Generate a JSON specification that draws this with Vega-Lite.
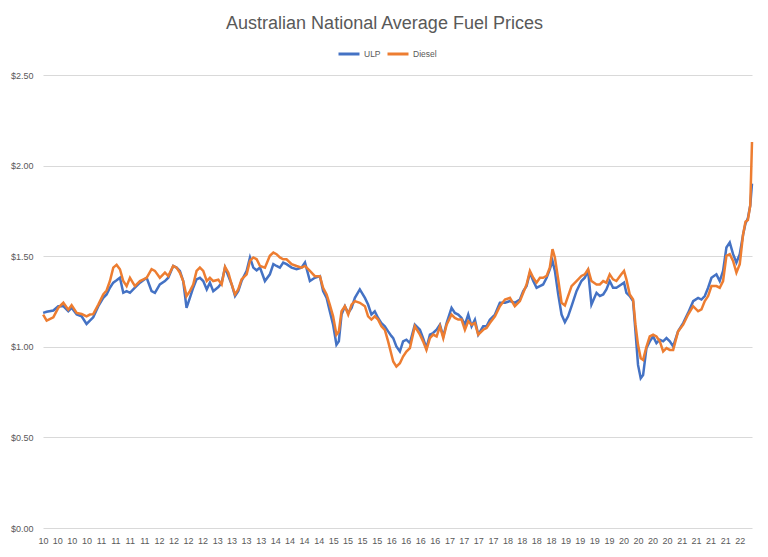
{
  "$schema": "https://vega.github.io/schema/vega-lite/v6.json",
  "autosize": "none",
  "width": 709,
  "height": 453,
  "padding": {"left": 43, "top": 75, "right": 16, "bottom": 29},
  "background": "white",
  "title": {
    "text": "Australian National Average Fuel Prices",
    "font": "Liberation Sans",
    "fontSize": 18,
    "fontWeight": "normal",
    "color": "#595959",
    "anchor": "middle",
    "dx": -13,
    "offset": 9
  },
  "config": {
    "view": {"stroke": null},
    "font": "Liberation Sans"
  },
  "data": {
    "values": [
      {"date": "2010-01-02", "ULP": 1.187, "Diesel": 1.178},
      {"date": "2010-01-24", "ULP": 1.193, "Diesel": 1.144},
      {"date": "2010-03-07", "ULP": 1.200, "Diesel": 1.163},
      {"date": "2010-04-07", "ULP": 1.224, "Diesel": 1.215},
      {"date": "2010-05-09", "ULP": 1.224, "Diesel": 1.243},
      {"date": "2010-06-09", "ULP": 1.196, "Diesel": 1.205},
      {"date": "2010-06-30", "ULP": 1.215, "Diesel": 1.230},
      {"date": "2010-08-01", "ULP": 1.178, "Diesel": 1.187},
      {"date": "2010-09-01", "ULP": 1.168, "Diesel": 1.181},
      {"date": "2010-10-02", "ULP": 1.126, "Diesel": 1.168},
      {"date": "2010-10-23", "ULP": 1.144, "Diesel": 1.178},
      {"date": "2010-11-13", "ULP": 1.163, "Diesel": 1.180},
      {"date": "2010-12-15", "ULP": 1.224, "Diesel": 1.233},
      {"date": "2011-01-15", "ULP": 1.270, "Diesel": 1.289},
      {"date": "2011-02-05", "ULP": 1.289, "Diesel": 1.311},
      {"date": "2011-02-26", "ULP": 1.326, "Diesel": 1.363},
      {"date": "2011-03-19", "ULP": 1.354, "Diesel": 1.437},
      {"date": "2011-04-09", "ULP": 1.367, "Diesel": 1.452},
      {"date": "2011-04-30", "ULP": 1.381, "Diesel": 1.428},
      {"date": "2011-05-21", "ULP": 1.298, "Diesel": 1.363},
      {"date": "2011-06-11", "ULP": 1.307, "Diesel": 1.335},
      {"date": "2011-07-02", "ULP": 1.298, "Diesel": 1.381},
      {"date": "2011-08-02", "ULP": 1.326, "Diesel": 1.335},
      {"date": "2011-09-03", "ULP": 1.354, "Diesel": 1.363},
      {"date": "2011-10-15", "ULP": 1.381, "Diesel": 1.381},
      {"date": "2011-11-15", "ULP": 1.307, "Diesel": 1.428},
      {"date": "2011-12-06", "ULP": 1.298, "Diesel": 1.419},
      {"date": "2012-01-06", "ULP": 1.344, "Diesel": 1.381},
      {"date": "2012-02-07", "ULP": 1.363, "Diesel": 1.410},
      {"date": "2012-02-28", "ULP": 1.381, "Diesel": 1.390},
      {"date": "2012-03-30", "ULP": 1.446, "Diesel": 1.446},
      {"date": "2012-04-20", "ULP": 1.437, "Diesel": 1.437},
      {"date": "2012-05-11", "ULP": 1.419, "Diesel": 1.409},
      {"date": "2012-06-01", "ULP": 1.363, "Diesel": 1.363},
      {"date": "2012-06-22", "ULP": 1.215, "Diesel": 1.280},
      {"date": "2012-07-13", "ULP": 1.270, "Diesel": 1.307},
      {"date": "2012-08-03", "ULP": 1.326, "Diesel": 1.344},
      {"date": "2012-08-24", "ULP": 1.372, "Diesel": 1.419},
      {"date": "2012-09-14", "ULP": 1.381, "Diesel": 1.437},
      {"date": "2012-10-05", "ULP": 1.363, "Diesel": 1.419},
      {"date": "2012-10-27", "ULP": 1.317, "Diesel": 1.363},
      {"date": "2012-11-16", "ULP": 1.354, "Diesel": 1.381},
      {"date": "2012-12-07", "ULP": 1.307, "Diesel": 1.363},
      {"date": "2013-01-08", "ULP": 1.330, "Diesel": 1.370},
      {"date": "2013-01-29", "ULP": 1.354, "Diesel": 1.344},
      {"date": "2013-02-19", "ULP": 1.437, "Diesel": 1.441},
      {"date": "2013-03-12", "ULP": 1.390, "Diesel": 1.409},
      {"date": "2013-04-02", "ULP": 1.344, "Diesel": 1.344},
      {"date": "2013-04-23", "ULP": 1.280, "Diesel": 1.289},
      {"date": "2013-05-13", "ULP": 1.307, "Diesel": 1.317},
      {"date": "2013-06-03", "ULP": 1.363, "Diesel": 1.372},
      {"date": "2013-07-05", "ULP": 1.419, "Diesel": 1.400},
      {"date": "2013-07-26", "ULP": 1.493, "Diesel": 1.474},
      {"date": "2013-08-16", "ULP": 1.437, "Diesel": 1.493},
      {"date": "2013-09-06", "ULP": 1.422, "Diesel": 1.483},
      {"date": "2013-09-27", "ULP": 1.437, "Diesel": 1.446},
      {"date": "2013-10-28", "ULP": 1.363, "Diesel": 1.437},
      {"date": "2013-11-28", "ULP": 1.400, "Diesel": 1.502},
      {"date": "2013-12-20", "ULP": 1.456, "Diesel": 1.520},
      {"date": "2014-01-09", "ULP": 1.446, "Diesel": 1.511},
      {"date": "2014-01-30", "ULP": 1.437, "Diesel": 1.493},
      {"date": "2014-02-20", "ULP": 1.465, "Diesel": 1.483},
      {"date": "2014-03-13", "ULP": 1.456, "Diesel": 1.483},
      {"date": "2014-04-14", "ULP": 1.437, "Diesel": 1.456},
      {"date": "2014-05-15", "ULP": 1.428, "Diesel": 1.446},
      {"date": "2014-06-15", "ULP": 1.437, "Diesel": 1.437},
      {"date": "2014-07-07", "ULP": 1.465, "Diesel": 1.446},
      {"date": "2014-08-07", "ULP": 1.363, "Diesel": 1.419},
      {"date": "2014-09-07", "ULP": 1.381, "Diesel": 1.390},
      {"date": "2014-10-09", "ULP": 1.390, "Diesel": 1.390},
      {"date": "2014-10-29", "ULP": 1.307, "Diesel": 1.326},
      {"date": "2014-11-20", "ULP": 1.270, "Diesel": 1.289},
      {"date": "2014-12-10", "ULP": 1.196, "Diesel": 1.233},
      {"date": "2014-12-31", "ULP": 1.122, "Diesel": 1.168},
      {"date": "2015-01-21", "ULP": 1.011, "Diesel": 1.067},
      {"date": "2015-02-05", "ULP": 1.030, "Diesel": 1.085},
      {"date": "2015-02-22", "ULP": 1.178, "Diesel": 1.196},
      {"date": "2015-03-15", "ULP": 1.224, "Diesel": 1.224},
      {"date": "2015-04-05", "ULP": 1.187, "Diesel": 1.178},
      {"date": "2015-04-26", "ULP": 1.215, "Diesel": 1.233},
      {"date": "2015-05-17", "ULP": 1.270, "Diesel": 1.252},
      {"date": "2015-06-17", "ULP": 1.317, "Diesel": 1.243},
      {"date": "2015-07-19", "ULP": 1.270, "Diesel": 1.224},
      {"date": "2015-08-08", "ULP": 1.233, "Diesel": 1.168},
      {"date": "2015-08-29", "ULP": 1.178, "Diesel": 1.150},
      {"date": "2015-09-19", "ULP": 1.196, "Diesel": 1.168},
      {"date": "2015-10-10", "ULP": 1.159, "Diesel": 1.150},
      {"date": "2015-10-31", "ULP": 1.131, "Diesel": 1.113},
      {"date": "2015-11-21", "ULP": 1.113, "Diesel": 1.094},
      {"date": "2015-12-12", "ULP": 1.085, "Diesel": 1.030},
      {"date": "2016-01-01", "ULP": 1.060, "Diesel": 0.960},
      {"date": "2016-01-13", "ULP": 1.048, "Diesel": 0.919},
      {"date": "2016-02-02", "ULP": 1.002, "Diesel": 0.891},
      {"date": "2016-02-24", "ULP": 0.974, "Diesel": 0.909},
      {"date": "2016-03-15", "ULP": 1.030, "Diesel": 0.946},
      {"date": "2016-04-05", "ULP": 1.039, "Diesel": 0.974},
      {"date": "2016-04-27", "ULP": 1.020, "Diesel": 0.993},
      {"date": "2016-05-28", "ULP": 1.122, "Diesel": 1.113},
      {"date": "2016-06-29", "ULP": 1.094, "Diesel": 1.067},
      {"date": "2016-07-19", "ULP": 1.048, "Diesel": 1.030},
      {"date": "2016-08-09", "ULP": 0.993, "Diesel": 0.983},
      {"date": "2016-08-31", "ULP": 1.067, "Diesel": 1.048},
      {"date": "2016-09-20", "ULP": 1.076, "Diesel": 1.067},
      {"date": "2016-10-12", "ULP": 1.094, "Diesel": 1.057},
      {"date": "2016-11-02", "ULP": 1.122, "Diesel": 1.113},
      {"date": "2016-11-23", "ULP": 1.057, "Diesel": 1.048},
      {"date": "2016-12-14", "ULP": 1.131, "Diesel": 1.122},
      {"date": "2017-01-14", "ULP": 1.215, "Diesel": 1.178},
      {"date": "2017-02-04", "ULP": 1.187, "Diesel": 1.159},
      {"date": "2017-02-25", "ULP": 1.178, "Diesel": 1.150},
      {"date": "2017-03-18", "ULP": 1.159, "Diesel": 1.150},
      {"date": "2017-04-08", "ULP": 1.122, "Diesel": 1.094},
      {"date": "2017-04-29", "ULP": 1.178, "Diesel": 1.141},
      {"date": "2017-05-20", "ULP": 1.113, "Diesel": 1.122},
      {"date": "2017-06-10", "ULP": 1.150, "Diesel": 1.131},
      {"date": "2017-07-01", "ULP": 1.067, "Diesel": 1.067},
      {"date": "2017-08-01", "ULP": 1.113, "Diesel": 1.094},
      {"date": "2017-08-22", "ULP": 1.113, "Diesel": 1.104},
      {"date": "2017-09-12", "ULP": 1.150, "Diesel": 1.131},
      {"date": "2017-10-14", "ULP": 1.178, "Diesel": 1.168},
      {"date": "2017-11-14", "ULP": 1.243, "Diesel": 1.224},
      {"date": "2017-12-16", "ULP": 1.243, "Diesel": 1.261},
      {"date": "2018-01-16", "ULP": 1.252, "Diesel": 1.270},
      {"date": "2018-02-16", "ULP": 1.243, "Diesel": 1.224},
      {"date": "2018-03-20", "ULP": 1.261, "Diesel": 1.252},
      {"date": "2018-04-10", "ULP": 1.307, "Diesel": 1.298},
      {"date": "2018-05-01", "ULP": 1.335, "Diesel": 1.344},
      {"date": "2018-05-22", "ULP": 1.409, "Diesel": 1.419},
      {"date": "2018-06-12", "ULP": 1.363, "Diesel": 1.381},
      {"date": "2018-07-03", "ULP": 1.326, "Diesel": 1.354},
      {"date": "2018-07-24", "ULP": 1.335, "Diesel": 1.381},
      {"date": "2018-08-13", "ULP": 1.344, "Diesel": 1.381},
      {"date": "2018-09-04", "ULP": 1.381, "Diesel": 1.391},
      {"date": "2018-09-24", "ULP": 1.428, "Diesel": 1.437},
      {"date": "2018-10-11", "ULP": 1.474, "Diesel": 1.539},
      {"date": "2018-10-26", "ULP": 1.419, "Diesel": 1.493},
      {"date": "2018-11-16", "ULP": 1.289, "Diesel": 1.372},
      {"date": "2018-12-07", "ULP": 1.178, "Diesel": 1.243},
      {"date": "2018-12-28", "ULP": 1.136, "Diesel": 1.228},
      {"date": "2019-01-17", "ULP": 1.168, "Diesel": 1.280},
      {"date": "2019-02-08", "ULP": 1.224, "Diesel": 1.335},
      {"date": "2019-03-11", "ULP": 1.307, "Diesel": 1.363},
      {"date": "2019-04-11", "ULP": 1.363, "Diesel": 1.391},
      {"date": "2019-05-02", "ULP": 1.381, "Diesel": 1.400},
      {"date": "2019-05-23", "ULP": 1.419, "Diesel": 1.428},
      {"date": "2019-06-13", "ULP": 1.233, "Diesel": 1.363},
      {"date": "2019-07-15", "ULP": 1.298, "Diesel": 1.344},
      {"date": "2019-08-05", "ULP": 1.280, "Diesel": 1.344},
      {"date": "2019-08-26", "ULP": 1.289, "Diesel": 1.363},
      {"date": "2019-09-15", "ULP": 1.317, "Diesel": 1.354},
      {"date": "2019-10-06", "ULP": 1.363, "Diesel": 1.400},
      {"date": "2019-10-27", "ULP": 1.326, "Diesel": 1.372},
      {"date": "2019-11-17", "ULP": 1.326, "Diesel": 1.363},
      {"date": "2019-12-18", "ULP": 1.344, "Diesel": 1.400},
      {"date": "2020-01-04", "ULP": 1.354, "Diesel": 1.419},
      {"date": "2020-01-19", "ULP": 1.298, "Diesel": 1.372},
      {"date": "2020-02-09", "ULP": 1.280, "Diesel": 1.289},
      {"date": "2020-03-01", "ULP": 1.252, "Diesel": 1.261},
      {"date": "2020-03-16", "ULP": 1.085, "Diesel": 1.122},
      {"date": "2020-04-01", "ULP": 0.900, "Diesel": 1.011},
      {"date": "2020-04-18", "ULP": 0.826, "Diesel": 0.937},
      {"date": "2020-05-03", "ULP": 0.844, "Diesel": 0.928},
      {"date": "2020-05-24", "ULP": 0.993, "Diesel": 1.000},
      {"date": "2020-06-14", "ULP": 1.030, "Diesel": 1.057},
      {"date": "2020-07-05", "ULP": 1.057, "Diesel": 1.067},
      {"date": "2020-07-26", "ULP": 1.020, "Diesel": 1.057},
      {"date": "2020-08-16", "ULP": 1.039, "Diesel": 1.030},
      {"date": "2020-09-06", "ULP": 1.030, "Diesel": 0.974},
      {"date": "2020-09-27", "ULP": 1.048, "Diesel": 0.993},
      {"date": "2020-10-18", "ULP": 1.030, "Diesel": 0.983},
      {"date": "2020-11-08", "ULP": 1.002, "Diesel": 0.983},
      {"date": "2020-12-09", "ULP": 1.085, "Diesel": 1.085},
      {"date": "2021-01-10", "ULP": 1.131, "Diesel": 1.122},
      {"date": "2021-02-10", "ULP": 1.187, "Diesel": 1.178},
      {"date": "2021-03-14", "ULP": 1.252, "Diesel": 1.224},
      {"date": "2021-04-14", "ULP": 1.270, "Diesel": 1.196},
      {"date": "2021-05-05", "ULP": 1.261, "Diesel": 1.206},
      {"date": "2021-05-26", "ULP": 1.280, "Diesel": 1.252},
      {"date": "2021-06-16", "ULP": 1.326, "Diesel": 1.280},
      {"date": "2021-07-07", "ULP": 1.381, "Diesel": 1.335},
      {"date": "2021-08-07", "ULP": 1.400, "Diesel": 1.335},
      {"date": "2021-08-28", "ULP": 1.363, "Diesel": 1.326},
      {"date": "2021-09-18", "ULP": 1.419, "Diesel": 1.363},
      {"date": "2021-10-09", "ULP": 1.548, "Diesel": 1.502},
      {"date": "2021-10-30", "ULP": 1.576, "Diesel": 1.511},
      {"date": "2021-11-20", "ULP": 1.511, "Diesel": 1.474},
      {"date": "2021-12-11", "ULP": 1.465, "Diesel": 1.409},
      {"date": "2022-01-01", "ULP": 1.511, "Diesel": 1.456},
      {"date": "2022-01-22", "ULP": 1.620, "Diesel": 1.620},
      {"date": "2022-02-06", "ULP": 1.680, "Diesel": 1.690},
      {"date": "2022-02-21", "ULP": 1.710, "Diesel": 1.700},
      {"date": "2022-03-08", "ULP": 1.780, "Diesel": 1.780},
      {"date": "2022-03-19", "ULP": 1.900, "Diesel": 2.130}
    ]
  },
  "transform": [{"fold": ["ULP", "Diesel"], "as": ["Fuel", "Price"]}],
  "mark": {"type": "line", "strokeWidth": 2.5, "interpolate": "linear"},
  "encoding": {
    "x": {
      "field": "date",
      "type": "temporal",
      "scale": {"domain": ["2010-01-01", "2022-03-19"], "nice": false},
      "axis": {
        "title": null,
        "format": "%y",
        "tickCount": {"interval": "month", "step": 3},
        "labelOverlap": false,
        "labelFlush": false,
        "labelBound": false,
        "domain": false,
        "ticks": false,
        "grid": false,
        "labelPadding": 8,
        "labelFontSize": 9,
        "labelColor": "#595959",
        "labelFont": "Liberation Sans"
      }
    },
    "y": {
      "field": "Price",
      "type": "quantitative",
      "scale": {"domain": [0, 2.5], "nice": false, "zero": true},
      "axis": {
        "title": null,
        "values": [0, 0.5, 1, 1.5, 2, 2.5],
        "format": "$.2f",
        "domain": false,
        "ticks": false,
        "grid": true,
        "gridColor": "#d9d9d9",
        "gridWidth": 1,
        "labelPadding": 10,
        "labelFontSize": 9,
        "labelColor": "#595959",
        "labelFont": "Liberation Sans"
      }
    },
    "color": {
      "field": "Fuel",
      "type": "nominal",
      "scale": {"domain": ["ULP", "Diesel"], "range": ["#4472C4", "#ED7D31"]},
      "legend": {
        "title": null,
        "orient": "none",
        "direction": "horizontal",
        "legendX": 294,
        "legendY": -33,
        "symbolType": "stroke",
        "symbolSize": 441,
        "symbolStrokeWidth": 3,
        "labelFontSize": 8.5,
        "labelColor": "#595959",
        "labelFont": "Liberation Sans",
        "labelOffset": 3,
        "columnPadding": 0
      }
    }
  }
}
